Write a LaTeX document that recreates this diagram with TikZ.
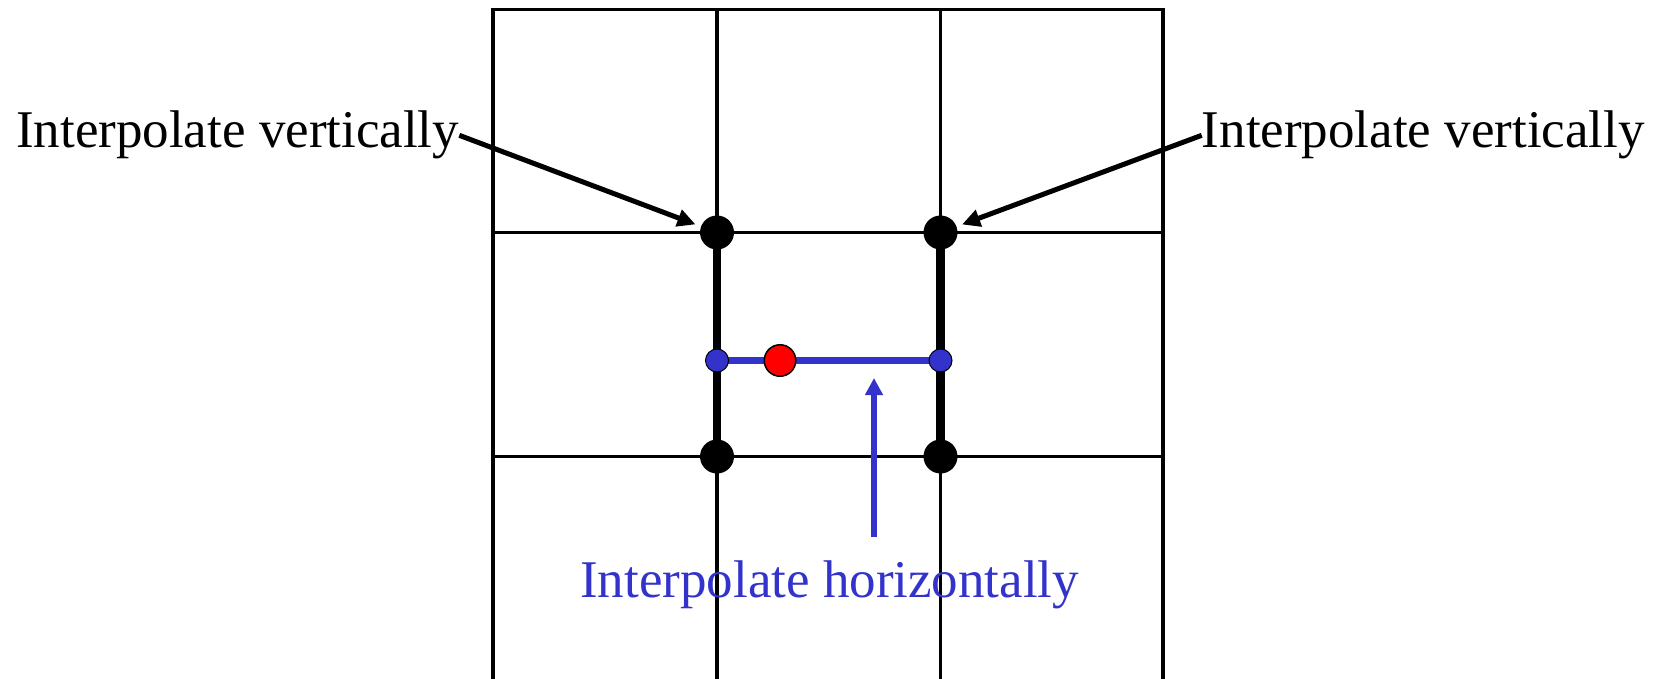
\documentclass[tikz,border=0pt]{standalone}
\usepackage{fontspec}
\setmainfont{Liberation Serif}
\usetikzlibrary{arrows.meta}
\definecolor{iblue}{RGB}{51,51,204}
\begin{document}
\begin{tikzpicture}[x=1pt,y=-1pt,
  gridline/.style={line width=3.3pt},
  thickline/.style={line width=8.5pt},
  bigdot/.style={circle,fill=black,minimum size=34pt,inner sep=0pt,outer sep=0pt},
  smalldot/.style={circle,fill=iblue,draw=black,line width=1pt,minimum size=23pt,inner sep=0pt,outer sep=0pt},
  reddot/.style={circle,fill=red,draw=black,line width=1.5pt,minimum size=31.5pt,inner sep=0pt,outer sep=0pt},
  lbl/.style={inner sep=0pt,font=\fontsize{53}{60}\selectfont},
  blackarrow/.style={line width=5pt,-{Triangle[length=18pt,width=17pt]},shorten >=6pt},
  bluearrow/.style={line width=6pt,draw=iblue,-{Triangle[length=17pt,width=17pt]}}
]
\useasboundingbox (0,0) rectangle (1657,679);
% grid
\draw[gridline] (493,679) -- (493,9.5) -- (1163,9.5) -- (1163,679);
\draw[gridline] (717,9.5) -- (717,679);
\draw[gridline] (940.5,9.5) -- (940.5,679);
\draw[gridline] (493,232.5) -- (1163,232.5);
\draw[gridline] (493,456.5) -- (1163,456.5);
% positions
\coordinate (p11) at (717,232.5);
\coordinate (p12) at (940.5,232.5);
\coordinate (p21) at (717,456.5);
\coordinate (p22) at (940.5,456.5);
\coordinate (pb1) at (717,360.5);
\coordinate (pb2) at (940.5,360.5);
\coordinate (pr) at (780,360.5);
% thick verticals and blue line
\draw[thickline] (p11) -- (p21);
\draw[thickline] (p12) -- (p22);
\draw[iblue,line width=7.5pt] (pb1) -- (pb2);
% dots
\node[bigdot] (d11) at (p11) {};
\node[bigdot] (d12) at (p12) {};
\node[bigdot] (d21) at (p21) {};
\node[bigdot] (d22) at (p22) {};
\node[smalldot] (b1) at (pb1) {};
\node[smalldot] (b2) at (pb2) {};
\node[reddot] (r) at (pr) {};
% labels
\node[lbl,anchor=base west] (ltext) at (16,148) {Interpolate vertically};
\node[lbl,anchor=base east] (rtext) at (1645,148) {Interpolate vertically};
\node[lbl,text=iblue,anchor=base west] (htext) at (580,597) {Interpolate horizontally};
% arrows
\draw[blackarrow] (ltext.east) -- (d11);
\draw[blackarrow] (rtext.west) -- (d12);
\coordinate (hs) at (874,537);
\coordinate (ht) at (874,378);
\draw[bluearrow] (hs) -- (ht);
\end{tikzpicture}
\end{document}
